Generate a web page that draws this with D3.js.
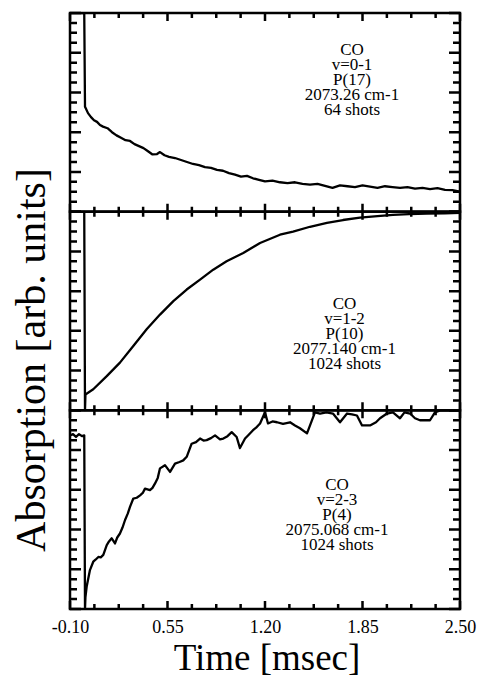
<!DOCTYPE html>
<html>
<head>
<meta charset="utf-8">
<script src="https://cdn.jsdelivr.net/npm/d3@7"></script>
<style>
  body { margin: 0; background: #fff; }
  svg { display: block; }
  text { font-family: 'Liberation Serif', 'Times New Roman', serif; fill: #000; }
</style>
</head>
<body>
<svg id="chart"></svg>
<script>
// shared time axis
const xMajorTicks = [-0.1, 0.55, 1.2, 1.85, 2.5]
const xTickLabels = ['-0.10', '0.55', '1.20', '1.85', '2.50']

// top panel: CO v=0-1
const panel1Time = [-0.1, -0.005, 0, 0.005, 0.02, 0.04, 0.06, 0.08, 0.1, 0.12, 0.15, 0.18, 0.21, 0.24, 0.27, 0.3, 0.33, 0.36, 0.39, 0.42, 0.45, 0.48, 0.5, 0.53, 0.56, 0.6, 0.64, 0.68, 0.72, 0.76, 0.8, 0.84, 0.88, 0.92, 0.96, 1.0, 1.04, 1.08, 1.12, 1.16, 1.2, 1.25, 1.3, 1.35, 1.4, 1.45, 1.5, 1.55, 1.6, 1.65, 1.7, 1.75, 1.8, 1.85, 1.9, 1.95, 2.0, 2.05, 2.1, 2.15, 2.2, 2.25, 2.3, 2.35, 2.4, 2.45, 2.5]
const panel1Signal = [5, 5, 2.64, 2.6, 2.48, 2.38, 2.3, 2.26, 2.18, 2.14, 2.1, 2.0, 1.92, 1.86, 1.8, 1.78, 1.7, 1.65, 1.6, 1.52, 1.44, 1.45, 1.5, 1.42, 1.38, 1.35, 1.3, 1.25, 1.2, 1.17, 1.12, 1.1, 1.05, 1.03, 0.97, 0.93, 0.88, 0.9, 0.84, 0.8, 0.76, 0.78, 0.74, 0.72, 0.74, 0.7, 0.68, 0.7, 0.65, 0.6, 0.66, 0.64, 0.62, 0.66, 0.63, 0.6, 0.64, 0.62, 0.6, 0.62, 0.58, 0.6, 0.57, 0.59, 0.55, 0.54, 0.5]
const panel1Text = ['CO', 'v=0-1', 'P(17)', '2073.26 cm-1', '64 shots']

// middle panel: CO v=1-2
const panel2Time = [-0.1, -0.005, 0, 0.003, 0.055, 0.145, 0.233, 0.322, 0.411, 0.5, 0.589, 0.678, 0.767, 0.855, 0.944, 1.055, 1.167, 1.3, 1.387, 1.5, 1.613, 1.72, 1.833, 1.95, 2.053, 2.16, 2.28, 2.4, 2.5]
const panel2Signal = [5, 5, 0, 0.4, 0.53, 0.86, 1.2, 1.62, 2.04, 2.41, 2.75, 3.04, 3.29, 3.54, 3.75, 3.96, 4.21, 4.42, 4.5, 4.62, 4.72, 4.79, 4.85, 4.89, 4.92, 4.94, 4.95, 4.96, 4.97]
const panel2Text = ['CO', 'v=1-2', 'P(10)', '2077.140 cm-1', '1024 shots']

// bottom panel: CO v=2-3
const panel3Time = [-0.1, -0.08, -0.06, -0.04, -0.02, -0.005, 0, 0.003, 0.011, 0.033, 0.055, 0.07, 0.089, 0.105, 0.122, 0.135, 0.145, 0.16, 0.178, 0.2, 0.215, 0.233, 0.25, 0.267, 0.285, 0.3, 0.322, 0.345, 0.367, 0.385, 0.4, 0.433, 0.45, 0.467, 0.485, 0.5, 0.533, 0.567, 0.6, 0.63, 0.655, 0.678, 0.711, 0.74, 0.767, 0.79, 0.811, 0.84, 0.867, 0.9, 0.922, 0.95, 0.978, 1.011, 1.033, 1.067, 1.09, 1.12, 1.145, 1.167, 1.2, 1.22, 1.25, 1.28, 1.32, 1.367, 1.4, 1.433, 1.48, 1.533, 1.567, 1.61, 1.653, 1.7, 1.747, 1.78, 1.813, 1.847, 1.9, 1.94, 1.967, 2.013, 2.053, 2.1, 2.13, 2.167, 2.2, 2.233, 2.3, 2.333, 2.367, 2.5]
const panel3Signal = [4.37, 4.4, 4.33, 4.4, 4.35, 4.37, 0, 0.3, 0.56, 0.98, 1.19, 1.24, 1.31, 1.3, 1.36, 1.5, 1.61, 1.7, 1.78, 1.65, 1.8, 1.9, 2.05, 2.24, 2.4, 2.57, 2.78, 2.8, 2.86, 2.92, 3.03, 2.99, 3.05, 3.16, 3.3, 3.54, 3.62, 3.45, 3.66, 3.7, 3.74, 3.83, 4.16, 4.2, 4.29, 4.24, 4.25, 4.3, 4.37, 4.27, 4.29, 4.35, 4.45, 4.33, 4.05, 4.29, 4.38, 4.5, 4.58, 4.67, 4.95, 4.67, 4.72, 4.7, 4.66, 4.7, 4.62, 4.55, 4.42, 4.95, 4.92, 4.95, 4.92, 4.7, 4.92, 4.9, 4.87, 4.62, 4.62, 4.7, 4.8, 4.92, 4.95, 4.8, 4.95, 4.92, 4.8, 4.75, 4.75, 4.95, 5, 5]
const panel3Text = ['CO', 'v=2-3', 'P(4)', '2075.068 cm-1', '1024 shots']

const panels = [
  { time: panel1Time, signal: panel1Signal, text: panel1Text, tx: 1.78, ty: 3.94 },
  { time: panel2Time, signal: panel2Signal, text: panel2Text, tx: 1.73, ty: 2.55 },
  { time: panel3Time, signal: panel3Signal, text: panel3Text, tx: 1.68, ty: 3.0 }
]

const margin = { top: 13, left: 70 }
const width = 390
const panelHeight = 596 / 3

const svg = d3.select('#chart').attr('width', 481).attr('height', 682)
const g = svg.append('g').attr('transform', `translate(${margin.left},${margin.top})`)

const x = d3.scaleLinear().domain([-0.1, 2.5]).range([0, width])
const y = d3.scaleLinear().domain([0, 5]).range([panelHeight, 0])

// minor ticks every quarter of a major step
const xMinor = d3.range(0, 17).map((i) => -0.1 + i * 0.1625)
const yTicks = d3.range(0, 21).map((i) => i * 0.25)
const isMajor = (i) => i % 4 === 0

const line = d3
  .line()
  .x((d) => x(d[0]))
  .y((d) => y(d[1]))

panels.forEach((p, i) => {
  const pg = g.append('g').attr('transform', `translate(0,${i * panelHeight})`)

  pg.append('clipPath')
    .attr('id', 'clip' + i)
    .append('rect')
    .attr('x', 0)
    .attr('y', -1)
    .attr('width', width)
    .attr('height', panelHeight + 2)

  // trace
  pg.append('path')
    .datum(d3.zip(p.time, p.signal))
    .attr('clip-path', `url(#clip${i})`)
    .attr('fill', 'none')
    .attr('stroke', '#000')
    .attr('stroke-width', 2.3)
    .attr('stroke-linejoin', 'round')
    .attr('d', line)

  // frame
  pg.append('rect')
    .attr('width', width)
    .attr('height', panelHeight)
    .attr('fill', 'none')
    .attr('stroke', '#000')
    .attr('stroke-width', 2.5)

  // ticks pointing inward, as one path per panel
  const tickPath = d3.path()
  xMinor.forEach((d, k) => {
    const len = isMajor(k) ? 8 : 5
    tickPath.moveTo(x(d), 0)
    tickPath.lineTo(x(d), len)
    tickPath.moveTo(x(d), panelHeight)
    tickPath.lineTo(x(d), panelHeight - len)
  })
  yTicks.forEach((d, k) => {
    const len = isMajor(k) ? 11 : 7
    tickPath.moveTo(0, y(d))
    tickPath.lineTo(len, y(d))
    tickPath.moveTo(width, y(d))
    tickPath.lineTo(width - len, y(d))
  })
  pg.append('path')
    .attr('d', tickPath.toString())
    .attr('fill', 'none')
    .attr('stroke', '#000')
    .attr('stroke-width', 2.5)

  // annotation
  pg.append('text')
    .attr('text-anchor', 'middle')
    .style('font-size', '17px')
    .selectAll('tspan')
    .data(p.text)
    .join('tspan')
    .attr('x', x(p.tx))
    .attr('y', (d, k) => y(p.ty) + k * 15)
    .text((d) => d)
})

// x tick labels under the bottom panel
g.append('g')
  .attr('transform', `translate(0,${3 * panelHeight})`)
  .call(
    d3
      .axisBottom(x)
      .tickValues(xMajorTicks)
      .tickSize(0)
      .tickPadding(11)
      .tickFormat((d, k) => xTickLabels[k])
  )
  .call((a) => a.select('.domain').remove())
  .call((a) => a.selectAll('text').style('font-size', '18px').style('font-family', "'Liberation Serif', serif"))

// axis titles
svg.append('text')
  .attr('x', 267)
  .attr('y', 670)
  .attr('text-anchor', 'middle')
  .style('font-size', '37px')
  .text('Time [msec]')

svg.append('text')
  .attr('transform', 'translate(45,360) rotate(-90)')
  .attr('text-anchor', 'middle')
  .style('font-size', '42px')
  .text('Absorption [arb. units]')
</script>
</body>
</html>
